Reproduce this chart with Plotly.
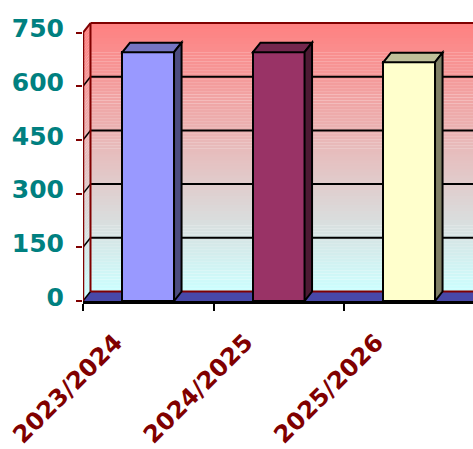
import plotly.graph_objects as go

# ---- data ----
categories = ["2023/2024", "2024/2025", "2025/2026"]
values = [695, 695, 667]
front_colors = ["#9999FF", "#993366", "#FFFFCC"]
top_colors = ["#7575C2", "#74274E", "#C0C09A"]
side_colors = ["#4D4D80", "#4D1A33", "#808066"]
y_ticks = [0, 150, 300, 450, 600, 750]

# ---- geometry / style ----
W, H = 473, 449
ml, mr, mt, mb = 83, 0, 20, 148
plot_h = H - mt - mb
y_top = 785
px_per_y = plot_h / y_top
cat_px = 130.5
x_left = -0.5
x_right = x_left + (W - ml - mr) / cat_px
dx = 7.5 / cat_px
dy = 9.5 / px_per_y
bar_w = 51.6 / cat_px
wall_top = y_ticks[-1]
DARKRED = "#800000"
FONT = "DejaVu Sans"

shapes = []

def path(pts):
    return "M " + " L ".join(f"{x},{y}" for x, y in pts) + " Z"

# gradient back wall + side wall
c_top = (255, 128, 128)
c_bot = (204, 255, 255)
N = 90
xr_far = x_right + 1
for i in range(N):
    y0 = dy + wall_top * i / N
    y1 = dy + wall_top * (i + 1) / N + 0.5
    t = (i + 0.5) / N
    col = tuple(round(c_bot[k] + (c_top[k] - c_bot[k]) * t) for k in range(3))
    shapes.append(dict(type="path", xref="x", yref="y", layer="below",
                       path=path([(x_left, y0 - dy), (x_left + dx, y0), (xr_far, y0),
                                  (xr_far, y1), (x_left + dx, y1), (x_left, y1 - dy)]),
                       fillcolor="rgb(%d,%d,%d)" % col, line=dict(width=0)))

# gridlines
for v in y_ticks[1:-1]:
    shapes.append(dict(type="line", xref="x", yref="y", layer="below",
                       x0=x_left + dx, x1=xr_far, y0=v + dy, y1=v + dy,
                       line=dict(color="black", width=2)))
    shapes.append(dict(type="line", xref="x", yref="y", layer="below",
                       x0=x_left, x1=x_left + dx, y0=v, y1=v + dy,
                       line=dict(color="black", width=1.5)))

# floor
shapes.append(dict(type="path", xref="x", yref="y", layer="below",
                   path=path([(x_left, 0), (x_left + dx, dy), (xr_far, dy), (xr_far, 0)]),
                   fillcolor="#4848A8", line=dict(width=0)))
shapes.append(dict(type="line", xref="x", yref="y", layer="below",
                   x0=x_left + dx, x1=xr_far, y0=dy, y1=dy,
                   line=dict(color=DARKRED, width=2)))
shapes.append(dict(type="line", xref="x", yref="y", layer="below",
                   x0=x_left, x1=x_left + dx, y0=0, y1=dy,
                   line=dict(color="black", width=1.5)))

# wall edges
shapes.append(dict(type="line", xref="x", yref="y", layer="below",
                   x0=x_left + dx, x1=xr_far, y0=wall_top + dy, y1=wall_top + dy,
                   line=dict(color=DARKRED, width=2)))
shapes.append(dict(type="line", xref="x", yref="y", layer="below",
                   x0=x_left + dx, x1=x_left + dx, y0=dy, y1=wall_top + dy,
                   line=dict(color=DARKRED, width=2)))
shapes.append(dict(type="line", xref="x", yref="y", layer="below",
                   x0=x_left, x1=x_left + dx, y0=wall_top, y1=wall_top + dy,
                   line=dict(color=DARKRED, width=2)))
shapes.append(dict(type="line", xref="x", yref="y", layer="above",
                   x0=x_left, x1=x_left, y0=0, y1=wall_top,
                   line=dict(color=DARKRED, width=2.5)))

# 3D faces of bars
for i, v in enumerate(values):
    xl = i - bar_w / 2
    xr = i + bar_w / 2
    shapes.append(dict(type="path", xref="x", yref="y", layer="above",
                       path=path([(xl, v), (xl + dx, v + dy), (xr + dx, v + dy), (xr, v)]),
                       fillcolor=top_colors[i], line=dict(color="black", width=2)))
    shapes.append(dict(type="path", xref="x", yref="y", layer="above",
                       path=path([(xr, 0), (xr + dx, dy), (xr + dx, v + dy), (xr, v)]),
                       fillcolor=side_colors[i], line=dict(color="black", width=2)))

fig = go.Figure(go.Bar(
    x=categories, y=values, width=bar_w,
    marker=dict(color=front_colors, line=dict(color="black", width=2)),
    hoverinfo="x+y",
))

fig.update_layout(
    width=W, height=H,
    margin=dict(l=ml, r=mr, t=mt, b=mb, pad=0),
    paper_bgcolor="white", plot_bgcolor="white",
    showlegend=False,
    shapes=shapes,
    bargap=0,
    xaxis=dict(range=[x_left, x_right], tickson="boundaries", ticks="outside",
               ticklen=7, tickwidth=2, tickcolor="black",
               showline=True, linecolor="black", linewidth=2.5,
               showgrid=False, zeroline=False, tickangle=-45, automargin=False,
               tickfont=dict(family=FONT, size=24, color=DARKRED, weight="bold"),
               ticklabelshift=-33, ticklabelstandoff=15),
    yaxis=dict(range=[0, y_top], tickvals=y_ticks, ticks="outside",
               ticklen=6, tickwidth=2, tickcolor=DARKRED, automargin=False,
               showline=False, showgrid=False, zeroline=False,
               tickfont=dict(family=FONT, size=25, color="#008080", weight="bold"),
               ticklabelstandoff=7, ticklabelshift=-4),
)

fig.write_html(
    "out.html",
    config={"displayModeBar": False},
    post_script="document.body.style.margin='0px';"
                "document.documentElement.style.overflow='hidden';",
)
